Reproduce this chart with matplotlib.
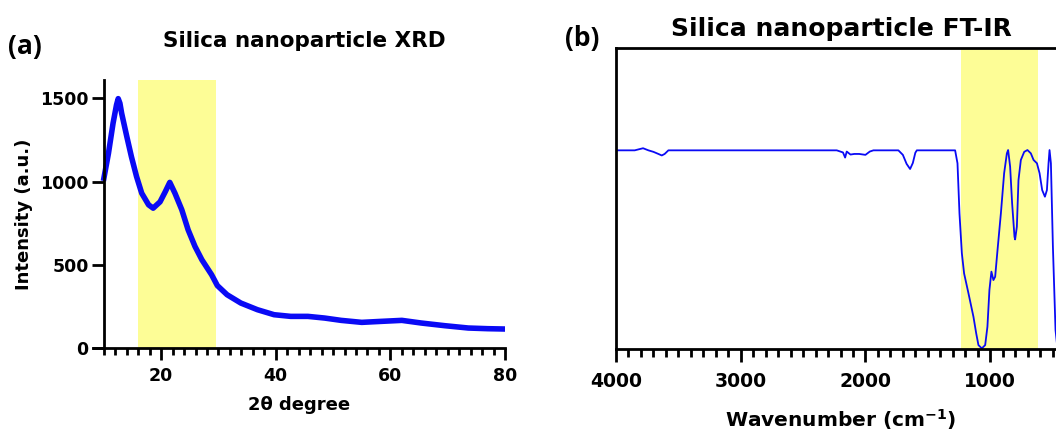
import numpy as np
import matplotlib.pyplot as plt
from matplotlib.ticker import MultipleLocator

# ---- XRD data ----
xrd_2theta = [10, 10.8, 11.6, 12.2, 12.5, 12.8, 13.1, 14.0, 14.8, 15.7, 16.6, 17.8, 18.6,
              19.8, 20.7, 21.5, 22.4, 23.6, 24.7, 25.9, 27.1, 28.8, 29.8, 31.5, 33.9,
              36.8, 39.7, 42.6, 45.6, 48.5, 51.4, 55, 58.4, 62, 65.4, 69.5, 73.6, 77, 80]
xrd_intensity = [1020, 1170, 1350, 1460, 1498, 1470, 1410, 1270, 1150, 1030, 930, 860, 840,
                 878, 938, 995, 930, 830, 710, 610, 530, 440, 375, 320, 270,
                 230, 200, 190, 190, 180, 166, 154, 160, 166, 150, 134, 120, 116, 114]

# ---- FT-IR data, arbitrary transmittance ----
ir_wavenumber = [4000, 3850, 3783, 3740, 3700, 3660, 3633, 3610, 3580, 3400, 3000, 2500,
                 2230, 2180, 2163, 2150, 2120, 2090, 2050, 2000, 1965, 1936, 1800,
                 1736, 1700, 1670, 1642, 1620, 1600, 1588, 1400, 1281, 1262, 1246,
                 1227, 1209, 1174, 1134, 1112, 1094, 1067, 1040, 1022, 1006, 990,
                 974, 960, 941, 914, 888, 866, 856, 840, 824, 805, 800, 786, 773,
                 754, 727, 701, 674, 652, 625, 604, 583, 561, 545, 532, 524, 513,
                 497, 476, 460, 400]
ir_trans = [66, 66, 66.7, 66, 65.5, 64.8, 64.3, 64.8, 66, 66, 66, 66,
            66, 65.3, 63.6, 65.6, 64.6, 64.8, 64.8, 64.5, 65.6, 66, 66,
            66, 64.5, 61.5, 59.8, 61.8, 65.2, 66, 66, 66, 61.7, 45,
            31.8, 25.1, 18.5, 10.7, 5.2, 1.3, 0.2, 1.3, 7.4, 19.6, 25.7,
            22.9, 24, 32.9, 45.1, 58.4, 65, 66.1, 60.6, 48.4, 37.3, 36.4, 40.6, 56.1,
            62.8, 65.5, 66.1, 65, 62.8, 61.7, 58.4, 52.8, 50.6, 52.8, 61.7, 66.1, 61.7,
            34, 6.3, 0, 0]

blue = "#0a0af5"
yellow = "#fdfd96"
plt.rcParams["font.family"] = "DejaVu Sans"
plt.rcParams["font.weight"] = "bold"

fig = plt.figure(figsize=(10.56, 4.32), dpi=100)

# =========================
# (a) XRD
# =========================
ax1 = fig.add_axes([93 / 1056, 84 / 432, 412 / 1056, 268 / 432])
ax1.axvspan(16, 29.5, color=yellow, lw=0, zorder=0)
ax1.plot(xrd_2theta, xrd_intensity, color=blue, lw=4, zorder=2, solid_joinstyle="round")
ax1.set_xlim(8.1, 80)
ax1.set_ylim(0, 1610)
ax1.spines["left"].set_position(("data", 10))
ax1.spines["top"].set_visible(False)
ax1.spines["right"].set_visible(False)
for s in ("left", "bottom"):
    ax1.spines[s].set_linewidth(2)
ax1.set_xticks([20, 40, 60, 80])
ax1.set_yticks([0, 500, 1000, 1500])
ax1.xaxis.set_minor_locator(MultipleLocator(2))
ax1.tick_params(which="major", length=8.5, width=2, labelsize=12.5, pad=5)
ax1.tick_params(axis="y", pad=2.5)
ax1.tick_params(which="minor", length=5, width=2)
ax1.tick_params(axis="y", which="minor", left=False)
ax1.set_xlabel("2θ degree", fontsize=13, fontweight="bold", labelpad=8)
ax1.set_ylabel("Intensity (a.u.)", fontsize=13, fontweight="bold", labelpad=5)
fig.text(0.288, 0.905, "Silica nanoparticle XRD", fontsize=15.5, fontweight="bold",
         ha="center", va="center")
fig.text(0.008, 0.893, "(a)", fontsize=19, fontweight="bold", family="Open Sans",
         ha="left", va="center")

# =========================
# (b) FT-IR
# =========================
ax2 = fig.add_axes([616 / 1056, 83 / 432, 449 / 1056, 301 / 432])
ax2.axvspan(1230, 615, color=yellow, lw=0, zorder=0)
ax2.plot(ir_wavenumber, ir_trans, color=blue, lw=1.3, zorder=2)
ax2.set_xlim(4000, 400)
ax2.set_ylim(0, 100)
for s in ax2.spines.values():
    s.set_linewidth(2)
ax2.set_xticks([4000, 3000, 2000, 1000])
ax2.xaxis.set_minor_locator(MultipleLocator(100))
ax2.set_yticks([])
ax2.tick_params(which="major", length=9.5, width=2, labelsize=13.5, pad=7)
ax2.tick_params(which="minor", length=6, width=2)
ax2.set_xlabel("Wavenumber (cm$^{\\mathbf{-1}}$)", fontsize=14.5, fontweight="bold", labelpad=12)
fig.text(0.797, 0.933, "Silica nanoparticle FT-IR", fontsize=18, fontweight="bold",
         ha="center", va="center")
fig.text(0.535, 0.91, "(b)", fontsize=19, fontweight="bold", family="Open Sans",
         ha="left", va="center")

fig.savefig("out.png", dpi=100)
